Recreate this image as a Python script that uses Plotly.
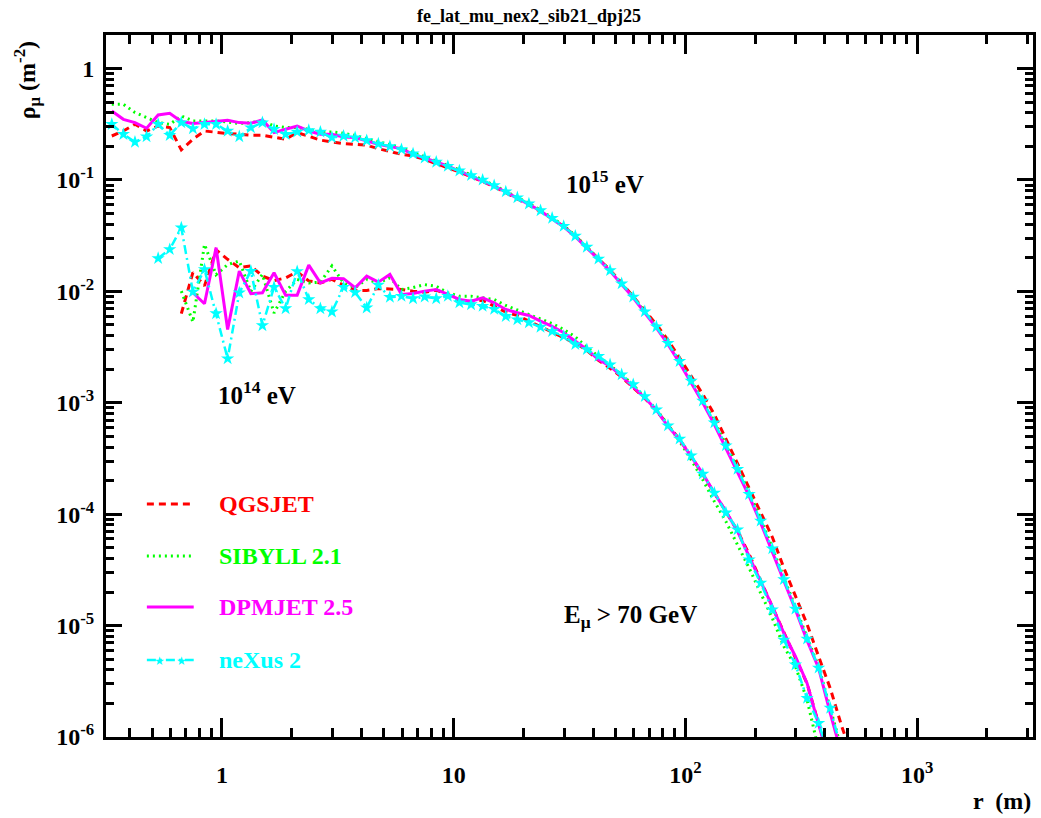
import plotly.graph_objects as go

# radial bin centres (m)
r_bins = [0.335, 0.3758, 0.4217, 0.4732, 0.5309, 0.5957, 0.6683, 0.7499, 0.8414, 0.9441,
          1.059, 1.189, 1.334, 1.496, 1.679, 1.884, 2.113, 2.371, 2.661, 2.985,
          3.350, 3.758, 4.217, 4.732, 5.309, 5.957, 6.683, 7.499, 8.414, 9.441,
          10.59, 11.89, 13.34, 14.96, 16.79, 18.84, 21.13, 23.71, 26.61, 29.85,
          33.50, 37.58, 42.17, 47.32, 53.09, 59.57, 66.83, 74.99, 84.14, 94.41,
          105.9, 118.9, 133.4, 149.6, 167.9, 188.4, 211.3, 237.1, 266.1, 298.5,
          335.0, 375.8, 421.7, 473.2, 530.9]

# ---- 10^15 eV ----
qgs_15 = [0.248, 0.275, 0.316, 0.275, 0.305, 0.295, 0.186, 0.232, 0.275, 0.266,
          0.261, 0.257, 0.252, 0.252, 0.240, 0.232, 0.266, 0.248, 0.228, 0.219,
          0.212, 0.209, 0.205, 0.191, 0.180, 0.170, 0.164, 0.153, 0.140, 0.129,
          0.118, 0.107, 0.0966, 0.0871, 0.0769, 0.0679, 0.0600, 0.0522, 0.0449, 0.0382,
          0.0314, 0.0249, 0.0198, 0.0155, 0.01194, 0.00906, 0.00673, 0.00505, 0.00365, 0.00253,
          0.00173, 0.00119, 0.000783, 0.000474, 0.000288, 0.000175, 0.000106, 6.24e-5, 3.29e-5, 1.83e-5,
          1.03e-5, 5.28e-6, 2.74e-6, 1.24e-6, 6.2e-7]
sib_15 = [0.478, 0.478, 0.403, 0.363, 0.327, 0.316, 0.375, 0.339, 0.339, 0.339,
          0.331, 0.321, 0.327, 0.339, 0.305, 0.295, 0.295, 0.285, 0.270, 0.270,
          0.262, 0.251, 0.234, 0.219, 0.207, 0.195, 0.176, 0.162, 0.148, 0.1355,
          0.123, 0.111, 0.1007, 0.0895, 0.0794, 0.0700, 0.0617, 0.0537, 0.0460, 0.0389,
          0.0316, 0.0251, 0.0197, 0.0154, 0.01175, 0.00891, 0.00656, 0.00484, 0.00345, 0.00237,
          0.00158, 0.00105, 0.000676, 0.000422, 0.000260, 0.000157, 9.1e-5, 5.0e-5, 2.69e-5, 1.45e-5,
          7.76e-6, 4.27e-6, 1.82e-6, 7.6e-7]
dpm_15 = [0.416, 0.350, 0.327, 0.291, 0.383, 0.396, 0.334, 0.321, 0.327, 0.334,
          0.343, 0.327, 0.323, 0.345, 0.266, 0.285, 0.305, 0.275, 0.257, 0.257,
          0.243, 0.240, 0.224, 0.209, 0.199, 0.191, 0.170, 0.158, 0.145, 0.133,
          0.120, 0.110, 0.0991, 0.0881, 0.0779, 0.0688, 0.0604, 0.0526, 0.0449, 0.0380,
          0.0310, 0.0247, 0.0194, 0.0152, 0.01153, 0.00875, 0.00643, 0.00471, 0.00334, 0.00228,
          0.00151, 0.000998, 0.000637, 0.000394, 0.000243, 0.000145, 8.34e-5, 4.6e-5, 2.49e-5, 1.39e-5,
          7.35e-6, 4.15e-6, 1.64e-6, 6.9e-7]
nex_15 = [0.316, 0.257, 0.219, 0.245, 0.316, 0.252, 0.327, 0.289, 0.316, 0.316,
          0.275, 0.245, 0.295, 0.327, 0.285, 0.257, 0.270, 0.279, 0.270, 0.240,
          0.248, 0.240, 0.226, 0.211, 0.200, 0.188, 0.172, 0.158, 0.145, 0.133,
          0.121, 0.110, 0.100, 0.0891, 0.0785, 0.0695, 0.0611, 0.0532, 0.0455, 0.0385,
          0.0314, 0.0250, 0.0196, 0.0154, 0.01175, 0.00891, 0.00658, 0.00481, 0.00343, 0.00236,
          0.00157, 0.00104, 0.000664, 0.000412, 0.000254, 0.000151, 8.7e-5, 4.9e-5, 2.6e-5, 1.41e-5,
          7.6e-6, 4.17e-6, 1.82e-6, 7.4e-7]

# ---- 10^14 eV (first bin index into r_bins) ----
qgs_14_start = 6
qgs_14 = [0.0063, 0.0148, 0.0112, 0.0236, 0.0194, 0.0163, 0.0169, 0.0137, 0.0125, 0.0132,
          0.0150, 0.0124, 0.0119, 0.0128, 0.0114, 0.0102, 0.0102, 0.0106, 0.0105, 0.0104,
          0.01005, 0.00984, 0.01025, 0.00938, 0.00817, 0.00817, 0.00834, 0.00736, 0.0065, 0.00608,
          0.0054, 0.00486, 0.0043, 0.00383, 0.00345, 0.00295, 0.0024, 0.00204, 0.0017, 0.00138,
          0.0011, 0.000851, 0.000631, 0.000468, 0.000331, 0.000229, 0.000155, 0.000105, 7.08e-5, 4.37e-5,
          2.51e-5, 1.48e-5, 8.7e-6, 5.13e-6, 3.02e-6, 1.32e-6, 6.0e-7]
sib_14_start = 6
sib_14 = [0.01005, 0.0053, 0.0264, 0.0141, 0.0174, 0.0187, 0.0100, 0.0142, 0.0064, 0.0100,
          0.0128, 0.0119, 0.0121, 0.0169, 0.0119, 0.0108, 0.0128, 0.0119, 0.0132, 0.0104,
          0.0108, 0.0115, 0.0111, 0.0097, 0.00906, 0.00906, 0.00875, 0.00846, 0.00747, 0.00678,
          0.0062, 0.00567, 0.00514, 0.00455, 0.0039, 0.00316, 0.00262, 0.0022, 0.00179, 0.00144,
          0.00113, 0.000869, 0.000637, 0.000451, 0.000308, 0.000204, 0.00013, 8.6e-5, 5.3e-5, 3.29e-5,
          1.96e-5, 1.17e-5, 6.5e-6, 4.3e-6, 2.16e-6, 7.7e-7]
dpm_14_start = 7
dpm_14 = [0.00971, 0.00774, 0.0247, 0.00455, 0.0152, 0.00951, 0.00971, 0.0147, 0.00925, 0.00925,
          0.0172, 0.0119, 0.0131, 0.0130, 0.01077, 0.0137, 0.0121, 0.0142, 0.00938, 0.00958,
          0.01005, 0.0104, 0.00938, 0.00846, 0.00817, 0.00875, 0.0079, 0.00688, 0.00643, 0.00608,
          0.0054, 0.00486, 0.00425, 0.00357, 0.00301, 0.00244, 0.00213, 0.00173, 0.00139, 0.00111,
          0.000857, 0.000615, 0.000467, 0.00033, 0.000231, 0.000155, 0.000106, 7.0e-5, 4.24e-5, 2.49e-5,
          1.49e-5, 8.57e-6, 5.28e-6, 3.04e-6, 1.29e-6, 5.8e-7]
nex_14_start = 4
nex_14 = [0.0198, 0.0238, 0.0373, 0.00991, 0.0157, 0.00633, 0.00249, 0.00971, 0.0152, 0.00494,
          0.0109, 0.00702, 0.0151, 0.00846, 0.00702, 0.00656, 0.0109, 0.0098, 0.00713, 0.0114,
          0.00887, 0.00906, 0.00863, 0.00894, 0.00863, 0.00906, 0.00791, 0.00762, 0.00736, 0.00692,
          0.00598, 0.00558, 0.00525, 0.00479, 0.00437, 0.00396, 0.00334, 0.00301, 0.00262, 0.0022,
          0.00179, 0.00146, 0.00114, 0.000869, 0.000624, 0.000474, 0.000336, 0.00023, 0.000155, 0.000103,
          7.26e-5, 3.9e-5, 2.41e-5, 1.39e-5, 7.45e-6, 4.45e-6, 2.23e-6, 1.33e-6, 6.3e-7]

models = ["QGSJET", "SIBYLL 2.1", "DPMJET 2.5", "neXus 2"]
colors = ["#ff0000", "#00ff00", "#ff00ff", "#00ffff"]
dashes = ["7px,5px", "2px,4px", "solid", "9px,4px,2px,4px"]
widths = [3, 3, 3, 2.5]

x_tick_vals = [1, 10, 100, 1000]
x_tick_text = ["1", "10", "10<sup>2</sup>", "10<sup>3</sup>"]
y_tick_vals = [1e-6, 1e-5, 1e-4, 1e-3, 1e-2, 1e-1, 1]
y_tick_text = ["10<sup>-6</sup>", "10<sup>-5</sup>", "10<sup>-4</sup>", "10<sup>-3</sup>",
               "10<sup>-2</sup>", "10<sup>-1</sup>", "1"]

FONT = "Liberation Serif"

fig = go.Figure()
series15 = [qgs_15, sib_15, dpm_15, nex_15]
series14 = [(qgs_14_start, qgs_14), (sib_14_start, sib_14), (dpm_14_start, dpm_14), (nex_14_start, nex_14)]
for i, name in enumerate(models):
    is_nex = name.startswith("neXus")
    mk = dict(symbol="star", size=10, color=colors[i], line=dict(width=0)) if is_nex else None
    mode = "lines+markers" if is_nex else "lines"
    ys = series15[i]
    fig.add_trace(go.Scatter(x=r_bins[:len(ys)], y=ys, mode=mode, name=name,
                             line=dict(color=colors[i], width=widths[i], dash=dashes[i]),
                             marker=mk, showlegend=False))
    st, ys = series14[i]
    fig.add_trace(go.Scatter(x=r_bins[st:st + len(ys)], y=ys, mode=mode, name=name,
                             line=dict(color=colors[i], width=widths[i], dash=dashes[i]),
                             marker=mk, showlegend=False))

x_minor = [d * 10 ** e for e in range(-1, 4) for d in range(2, 10) if 0.316 < d * 10 ** e < 3162]
y_minor = [d * 10 ** e for e in range(-6, 1) for d in range(2, 10) if d * 10 ** e < 2.0]

axis_common = dict(showline=True, linecolor="black", linewidth=3, mirror="allticks",
                   ticks="inside", tickcolor="black", tickwidth=2.5, showgrid=False,
                   zeroline=False, tickfont=dict(family=FONT, size=24, color="black", weight="bold"))

fig.update_xaxes(type="log", range=[-0.5, 3.5], tickmode="array", tickvals=x_tick_vals,
                 ticktext=x_tick_text, ticklen=19, ticklabelstandoff=14,
                 minor=dict(tickmode="array", tickvals=x_minor, ticklen=9, ticks="inside",
                            tickcolor="black", tickwidth=2.5, showgrid=False),
                 **axis_common)
fig.update_yaxes(type="log", range=[-6, 0.301], tickmode="array", tickvals=y_tick_vals,
                 ticktext=y_tick_text, ticklen=16, ticklabelstandoff=4,
                 minor=dict(tickmode="array", tickvals=y_minor, ticklen=8, ticks="inside",
                            tickcolor="black", tickwidth=2.5, showgrid=False),
                 **axis_common)

L, R, T, B = 106, 5, 35, 81
W, H = 1041, 818
PW, PH = W - L - R, H - T - B

def px(x):
    return (x - L) / PW

def py(y):
    return (H - B - y) / PH

def txt(text, x, y, size=24, color="black", xanchor="center", angle=0):
    fig.add_annotation(text=text, x=px(x), y=py(y), xref="paper", yref="paper",
                       showarrow=False, xanchor=xanchor, yanchor="middle", textangle=angle,
                       font=dict(family=FONT, size=size, color=color, weight="bold"))

txt("fe_lat_mu_nex2_sib21_dpj25", 530, 16, size=18)
txt("ρ<sub>μ</sub> (m<sup>-2</sup>)", 27, 80, size=24, angle=-90)
txt("r  (m)", 1036, 801, size=24, xanchor="right")
txt("10<sup>15</sup> eV", 607, 182, size=25)
txt("10<sup>14</sup> eV", 257, 393, size=25)
txt("E<sub>μ</sub> > 70 GeV", 632, 616, size=25)

legend_rows = [504, 556, 607, 660]
for i, name in enumerate(models):
    yy = legend_rows[i]
    fig.add_shape(type="line", xref="paper", yref="paper", x0=px(147), x1=px(194),
                  y0=py(yy), y1=py(yy), line=dict(color=colors[i], width=widths[i], dash=dashes[i]))
    txt(name, 217, yy, size=24, color=colors[i], xanchor="left")
    if name.startswith("neXus"):
        for sx in (160, 182):
            fig.add_annotation(text="★", x=px(sx), y=py(yy), xref="paper", yref="paper",
                               showarrow=False, xanchor="center", yanchor="middle",
                               font=dict(size=12, color=colors[i]))

fig.update_layout(width=W, height=H, margin=dict(l=L, r=R, t=T, b=B),
                  plot_bgcolor="white", paper_bgcolor="white", showlegend=False)

fig.write_html("out.html")
